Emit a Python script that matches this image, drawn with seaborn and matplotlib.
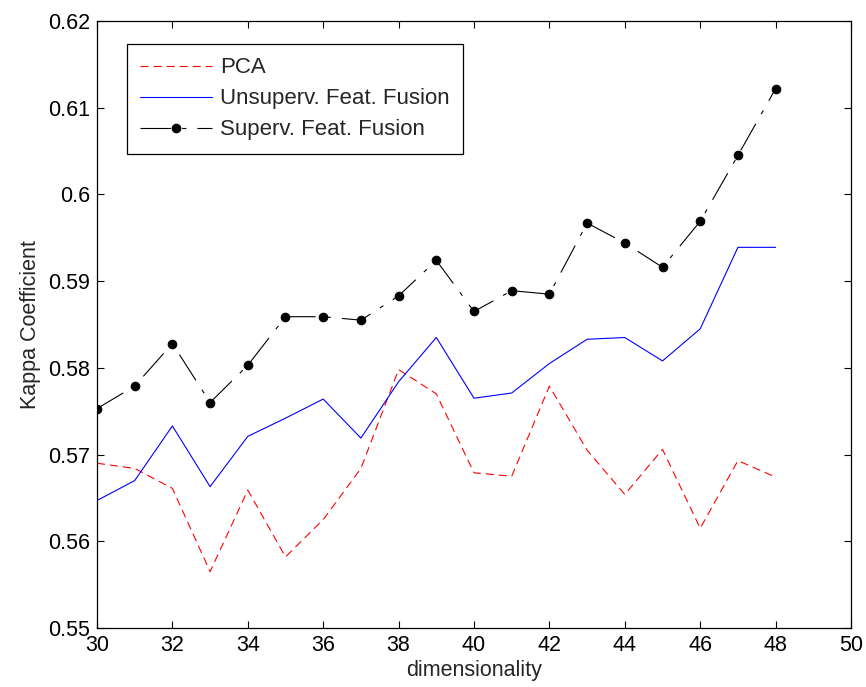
import matplotlib
matplotlib.use("Agg")
import matplotlib.pyplot as plt
import seaborn as sns

# Kappa coefficient vs. number of retained dimensions
dims = list(range(30, 49))

pca = [0.5690, 0.5684, 0.5661, 0.5565, 0.5659, 0.5582, 0.5625, 0.5684, 0.5798,
       0.5770, 0.5679, 0.5675, 0.5779, 0.5705, 0.5654, 0.5706, 0.5615, 0.5693, 0.5674]

unsup = [0.5647, 0.5670, 0.5733, 0.5663, 0.5721, 0.5742, 0.5764, 0.5719, 0.5784,
         0.5835, 0.5765, 0.5771, 0.5805, 0.5833, 0.5835, 0.5808, 0.5845, 0.5939, 0.5939]

sup = [0.5753, 0.5779, 0.5828, 0.5760, 0.5803, 0.5859, 0.5859, 0.5855, 0.5883,
       0.5924, 0.5865, 0.5889, 0.5885, 0.5967, 0.5944, 0.5916, 0.5969, 0.6045, 0.6122]

labels = ["PCA", "Unsuperv. Feat. Fusion", "Superv. Feat. Fusion"]
x_ticks = list(range(30, 51, 2))
y_ticks = [0.55, 0.56, 0.57, 0.58, 0.59, 0.60, 0.61, 0.62]
y_tick_labels = ["0.55", "0.56", "0.57", "0.58", "0.59", "0.6", "0.61", "0.62"]

sns.set_style("ticks")
plt.rcParams["font.family"] = ["Liberation Sans", "DejaVu Sans"]
plt.rcParams["lines.scale_dashes"] = False

FS = 15.5

fig = plt.figure(figsize=(8.66, 6.87), dpi=100)
ax = fig.add_axes([0.112, 0.0859, 0.8707, 0.8835])

sns.lineplot(x=dims, y=pca, ax=ax, color="#ff0000", linewidth=0.8, label=labels[0])
sns.lineplot(x=dims, y=unsup, ax=ax, color="#0000ff", linewidth=0.8, label=labels[1])
sns.lineplot(x=dims, y=sup, ax=ax, color="black", linewidth=0.8, label=labels[2],
             marker="o", markersize=6.2, markeredgecolor="black", markerfacecolor="black")

lines = ax.get_lines()
lines[0].set_dashes((5.8, 3.6))
lines[2].set_dashes((22, 8, 3, 8))

ax.set_xlim(30, 50)
ax.set_ylim(0.55, 0.62)
ax.set_xticks(x_ticks)
ax.set_yticks(y_ticks)
ax.set_yticklabels(y_tick_labels)
ax.tick_params(direction="in", length=5, width=0.8, labelsize=FS, colors="black",
               top=True, right=True, pad=5)
for s in ax.spines.values():
    s.set_visible(True)
    s.set_color("black")
    s.set_linewidth(0.9)

ax.set_xlabel("dimensionality", fontsize=FS, labelpad=3)
ax.set_ylabel("Kappa Coefficient", fontsize=FS, labelpad=5)

leg = ax.legend(loc="upper left", bbox_to_anchor=(0.04, 0.962), fontsize=16,
                handlelength=3.2, frameon=True, fancybox=False, borderpad=0.6,
                labelspacing=0.45, handletextpad=0.4, borderaxespad=0)
leg.get_frame().set_edgecolor("black")
leg.get_frame().set_linewidth(0.9)
leg.get_frame().set_alpha(1)

fig.savefig("out.png", dpi=100)
